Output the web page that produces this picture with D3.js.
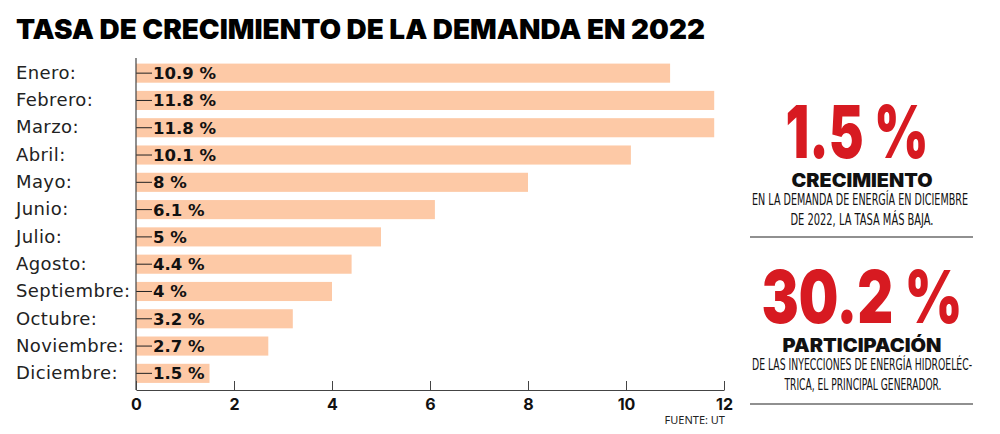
<!DOCTYPE html>
<html>
<head>
<meta charset="utf-8">
<script src="https://cdn.jsdelivr.net/npm/d3@7"></script>
<style>
  body { margin: 0; background: #fff; }
  svg { display: block; }
</style>
</head>
<body>
<div id="container"></div>
<script>
const months = ["Enero", "Febrero", "Marzo", "Abril", "Mayo", "Junio", "Julio", "Agosto", "Septiembre", "Octubre", "Noviembre", "Diciembre"];
const growth = [10.9, 11.8, 11.8, 10.1, 8, 6.1, 5, 4.4, 4, 3.2, 2.7, 1.5];
const xTicks = [0, 2, 4, 6, 8, 10, 12];

const w = 1000, h = 434;
const xLeft = 136, xRight = 724; // x range
const yTop = 59.5, yBottom = 387;
const axisY = 390;

const svg = d3.select("#container").append("svg").attr("width", w).attr("height", h);

// title
svg.append("text").attr("x", 16).attr("y", 39)
    .attr("font-family", "Inter").attr("font-weight", 900).attr("font-size", 27)
    .attr("textLength", 689).attr("lengthAdjust", "spacingAndGlyphs")
    .text("TASA DE CRECIMIENTO DE LA DEMANDA EN 2022");

const xScale = d3.scaleLinear().domain([0, 12]).range([xLeft, xRight]);
const yScale = d3.scaleBand().domain(months).range([yTop, yBottom]).paddingInner(0.3).paddingOuter(0.15);

svg.selectAll("rect.bar").data(months).enter().append("rect")
    .attr("class", "bar")
    .attr("x", xScale(0))
    .attr("y", (d) => yScale(d))
    .attr("width", (d, i) => xScale(growth[i]) - xScale(0))
    .attr("height", yScale.bandwidth())
    .attr("fill", "#fdc9a6");

// y axis
const yAxis = d3.axisLeft(yScale).tickSize(-16).tickPadding(0).tickFormat((d) => d + ":");
const gy = svg.append("g").attr("transform", `translate(${xLeft}, 0)`).call(yAxis);
gy.select(".domain").remove();
gy.selectAll(".tick line").attr("stroke", "#222").attr("stroke-width", 1);
gy.selectAll(".tick text").attr("x", 16 - xLeft).attr("text-anchor", "start")
    .attr("font-family", "DejaVu Sans").attr("font-size", 18).attr("letter-spacing", 0.4).attr("fill", "#222");
svg.append("line").attr("x1", xLeft).attr("x2", xLeft).attr("y1", 58).attr("y2", axisY).attr("stroke", "#444").attr("stroke-width", 1.2);

// value labels
svg.selectAll("text.val").data(months).enter().append("text")
    .attr("class", "val")
    .attr("x", xScale(0) + 17)
    .attr("y", (d) => yScale(d) + yScale.bandwidth() / 2)
    .attr("dy", "0.36em")
    .attr("font-family", "DejaVu Sans").attr("font-weight", 700).attr("font-size", 16.5)
    .attr("fill", "#111")
    .text((d, i) => growth[i] + " %");

// x axis
const xAxis = d3.axisBottom(xScale).tickValues(xTicks).tickSize(-9).tickPadding(9).tickSizeOuter(0);
const gx = svg.append("g").attr("transform", `translate(0, ${axisY})`).call(xAxis);
gx.select(".domain").attr("stroke", "#444").attr("stroke-width", 1.2);
gx.selectAll(".tick line").attr("stroke", "#444");
gx.selectAll(".tick text").attr("font-family", "Inter").attr("font-weight", 700).attr("font-size", 16).attr("fill", "#111");

svg.append("text").attr("x", 725).attr("y", 424).attr("text-anchor", "end")
    .attr("font-family", "Noto Sans").attr("font-size", 11).attr("fill", "#222").text("FUENTE: UT");

// right panel
const red = "#d71a21";
function bigNum(txt, cx, y, width) {
    svg.append("text").attr("x", cx).attr("y", y).attr("text-anchor", "middle")
        .attr("font-family", "Inter").attr("font-weight", 900)
        .attr("font-size", 73).attr("fill", red)
        .attr("textLength", width).attr("lengthAdjust", "spacingAndGlyphs").text(txt);
}
function head(txt, cx, y, width) {
    svg.append("text").attr("x", cx).attr("y", y).attr("text-anchor", "middle")
        .attr("font-family", "Inter").attr("font-weight", 900).attr("font-size", 18.5).attr("fill", "#111")
        .attr("textLength", width).attr("lengthAdjust", "spacingAndGlyphs").text(txt);
}
function sub(txt, cx, y, width) {
    svg.append("text").attr("x", cx).attr("y", y).attr("text-anchor", "middle")
        .attr("font-family", "Liberation Sans Narrow, DejaVu Sans Condensed").attr("font-size", 15).attr("fill", "#111")
        .attr("textLength", width).attr("lengthAdjust", "spacingAndGlyphs").text(txt);
}
bigNum("1.5 %", 857, 158, 143);
head("CRECIMIENTO", 862, 187, 141);
sub("EN LA DEMANDA DE ENERGÍA EN DICIEMBRE", 860, 205, 216);
sub("DE 2022, LA TASA MÁS BAJA.", 862, 225, 143);
svg.append("line").attr("x1", 750).attr("x2", 973).attr("y1", 237).attr("y2", 237).attr("stroke", "#222").attr("stroke-width", 1.2);

bigNum("30.2 %", 862, 323, 201);
head("PARTICIPACIÓN", 862, 352, 159);
sub("DE LAS INYECCIONES DE ENERGÍA HIDROELÉC-", 862, 370, 220);
sub("TRICA, EL PRINCIPAL GENERADOR.", 863, 390, 157);
svg.append("line").attr("x1", 750).attr("x2", 973).attr("y1", 404).attr("y2", 404).attr("stroke", "#222").attr("stroke-width", 1.2);
</script>
</body>
</html>
